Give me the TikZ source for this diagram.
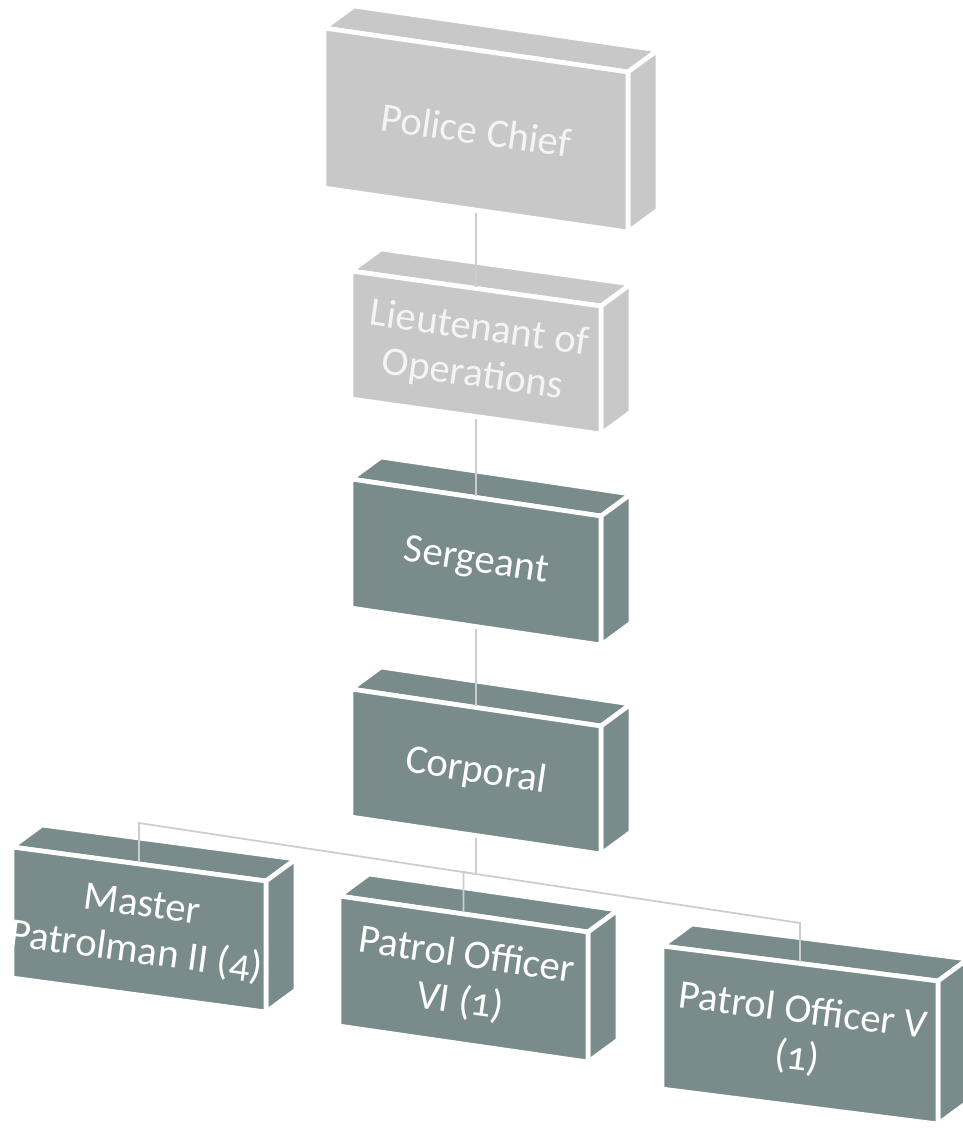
\documentclass[tikz,border=0pt]{standalone}
\usepackage{fontspec}
\setmainfont{Carlito}[Numbers=OldStyle]
\usetikzlibrary{calc}
\definecolor{boxdark}{RGB}{122,139,140}
\definecolor{boxlight}{RGB}{200,200,200}
\definecolor{linkgray}{RGB}{205,205,205}
\definecolor{txtlight}{RGB}{244,244,244}
\tikzset{
  face/.style={draw=white, line width=3.5pt, line join=round},
  lbl/.style={font=\fontsize{30.5}{35}\selectfont, align=center, inner sep=0pt},
  link/.style={draw=linkgray, line width=1.3pt},
}
% #1 name, #2 x0, #3 y0, #4 width, #5 slope rise, #6 height, #7 fill, #8 text colour, #9 text
\newcommand\orgbox[9]{%
  \coordinate (#1-tl) at (#2,#3);
  \coordinate (#1-tr) at (#2+#4,#3+#5);
  \coordinate (#1-br) at (#2+#4,#3+#5+#6);
  \coordinate (#1-bl) at (#2,#3+#6);
  \coordinate (#1-t) at (#2+#4/2,#3+#5/2);
  \coordinate (#1-b) at (#2+#4/2,#3+#5/2+#6);
  \coordinate (#1-c) at (#2+#4/2,#3+#5/2+#6/2);
  \path[face,fill=#7] (#1-tl) -- (#1-tr) -- ++(30,-22) -- ($(#1-tl)+(30,-22)$) -- cycle;
  \path[face,fill=#7] (#1-tr) -- ++(30,-22) -- ($(#1-br)+(30,-22)$) -- (#1-br) -- cycle;
  \path[face,fill=#7] (#1-tl) -- (#1-tr) -- (#1-br) -- (#1-bl) -- cycle;
  \pgfmathsetmacro\boxang{-atan(#5/#4)}
  \node[lbl,text=#8,rotate=\boxang] (#1) at (#1-c) {#9};
}
\begin{document}
\begin{tikzpicture}[x=0.75pt,y=-0.75pt]
\useasboundingbox (0,0) rectangle (963,1128);
\orgbox{pc}{324}{28}{304}{44}{160}{boxlight}{txtlight}{Police Chief}
\orgbox{lt}{351}{271}{250}{35}{128}{boxlight}{txtlight}{Lieutenant of\\Operations}
\orgbox{sg}{351}{479}{250}{37}{129}{boxdark}{white}{Sergeant}
\orgbox{cp}{351}{689}{250}{37}{128}{boxdark}{white}{Corporal}
\orgbox{mp}{12}{847}{254}{34}{131}{boxdark}{white}{Master\\Patrolman II (4)}
\orgbox{p6}{339}{896}{249}{36}{130}{boxdark}{white}{Patrol Officer\\VI (1)}
\orgbox{p5}{662}{946}{276}{35}{143}{boxdark}{white}{Patrol Officer V\\(1)}
% connectors
\coordinate (busL) at (139,823);
\coordinate (busR) at (800,923);
\coordinate (jc) at (476,874);
\coordinate (j6) at (463.5,872);
\draw[link,shorten <=2pt,shorten >=1.5pt] (pc-b) -- (lt-t);
\draw[link,shorten <=2pt,shorten >=1.5pt] (lt-b) -- (sg-t);
\draw[link,shorten <=2pt,shorten >=1.5pt] (sg-b) -- (cp-t);
\draw[link,shorten <=2pt,shorten >=1.5pt] (cp-b) -- (jc) -- (busL) -- (mp-t);
\draw[link,shorten <=2pt,shorten >=1.5pt] (cp-b) -- (jc) -- (j6) -- (p6-t);
\draw[link,shorten <=2pt,shorten >=1.5pt] (cp-b) -- (jc) -- (busR) -- (p5-t);
\end{tikzpicture}
\end{document}
